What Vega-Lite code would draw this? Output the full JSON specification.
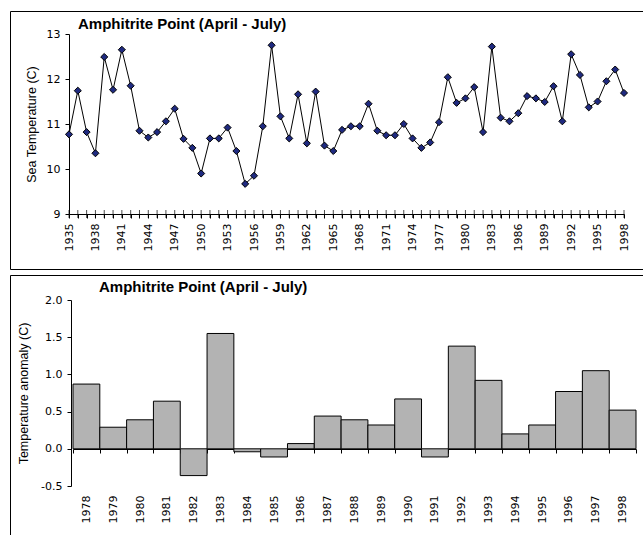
{
  "$schema": "https://vega.github.io/schema/vega-lite/v6.json",
  "padding": {"left": 3, "top": 10, "right": 0, "bottom": 0},
  "spacing": 4,
  "config": {
    "view": {"stroke": "#000000", "strokeWidth": 1},
    "axis": {
      "labelFont": "DejaVu Sans", "labelFontSize": 11, "labelColor": "#000000",
      "titleFont": "Liberation Sans", "titleFontSize": 12.5, "titleFontWeight": "normal", "titleColor": "#000000",
      "domainColor": "#000000", "tickColor": "#000000", "tickSize": 4, "labelPadding": 5,
      "grid": false, "zindex": 1, "labelOverlap": false, "labelFlush": false
    },
    "title": {"font": "Liberation Sans", "fontSize": 15, "fontWeight": "bold", "color": "#000000", "anchor": "start", "frame": "group"}
  },
  "datasets": {
    "temp": [
      {"year": 1935, "t": 10.77}, {"year": 1936, "t": 11.74}, {"year": 1937, "t": 10.82}, {"year": 1938, "t": 10.35},
      {"year": 1939, "t": 12.49}, {"year": 1940, "t": 11.76}, {"year": 1941, "t": 12.65}, {"year": 1942, "t": 11.85},
      {"year": 1943, "t": 10.85}, {"year": 1944, "t": 10.70}, {"year": 1945, "t": 10.82}, {"year": 1946, "t": 11.06},
      {"year": 1947, "t": 11.34}, {"year": 1948, "t": 10.67}, {"year": 1949, "t": 10.47}, {"year": 1950, "t": 9.90},
      {"year": 1951, "t": 10.68}, {"year": 1952, "t": 10.68}, {"year": 1953, "t": 10.92}, {"year": 1954, "t": 10.40},
      {"year": 1955, "t": 9.67}, {"year": 1956, "t": 9.85}, {"year": 1957, "t": 10.95}, {"year": 1958, "t": 12.75},
      {"year": 1959, "t": 11.17}, {"year": 1960, "t": 10.68}, {"year": 1961, "t": 11.66}, {"year": 1962, "t": 10.57},
      {"year": 1963, "t": 11.72}, {"year": 1964, "t": 10.52}, {"year": 1965, "t": 10.40}, {"year": 1966, "t": 10.87},
      {"year": 1967, "t": 10.95}, {"year": 1968, "t": 10.95}, {"year": 1969, "t": 11.45}, {"year": 1970, "t": 10.85},
      {"year": 1971, "t": 10.75}, {"year": 1972, "t": 10.75}, {"year": 1973, "t": 11.00}, {"year": 1974, "t": 10.68},
      {"year": 1975, "t": 10.47}, {"year": 1976, "t": 10.59}, {"year": 1977, "t": 11.04}, {"year": 1978, "t": 12.04},
      {"year": 1979, "t": 11.47}, {"year": 1980, "t": 11.57}, {"year": 1981, "t": 11.82}, {"year": 1982, "t": 10.82},
      {"year": 1983, "t": 12.72}, {"year": 1984, "t": 11.14}, {"year": 1985, "t": 11.06}, {"year": 1986, "t": 11.24},
      {"year": 1987, "t": 11.62}, {"year": 1988, "t": 11.57}, {"year": 1989, "t": 11.49}, {"year": 1990, "t": 11.84},
      {"year": 1991, "t": 11.06}, {"year": 1992, "t": 12.55}, {"year": 1993, "t": 12.09}, {"year": 1994, "t": 11.37},
      {"year": 1995, "t": 11.50}, {"year": 1996, "t": 11.95}, {"year": 1997, "t": 12.21}, {"year": 1998, "t": 11.69}
    ],
    "anom": [
      {"year": "1978", "a": 0.87}, {"year": "1979", "a": 0.29}, {"year": "1980", "a": 0.39}, {"year": "1981", "a": 0.64},
      {"year": "1982", "a": -0.36}, {"year": "1983", "a": 1.55}, {"year": "1984", "a": -0.04}, {"year": "1985", "a": -0.11},
      {"year": "1986", "a": 0.07}, {"year": "1987", "a": 0.44}, {"year": "1988", "a": 0.39}, {"year": "1989", "a": 0.32},
      {"year": "1990", "a": 0.67}, {"year": "1991", "a": -0.11}, {"year": "1992", "a": 1.38}, {"year": "1993", "a": 0.92},
      {"year": "1994", "a": 0.20}, {"year": "1995", "a": 0.32}, {"year": "1996", "a": 0.77}, {"year": "1997", "a": 1.05},
      {"year": "1998", "a": 0.52}
    ]
  },
  "vconcat": [
    {
      "width": 639,
      "height": 258,
      "title": {"text": "Amphitrite Point (April - July)", "offset": -21, "dx": 68},
      "data": {"name": "temp"},
      "encoding": {
        "x": {
          "field": "year", "type": "quantitative",
          "scale": {"domain": [1935, 1998], "range": [59, 614], "nice": false, "zero": false},
          "axis": {
            "title": null, "offset": -55, "format": "d", "labelAngle": 270, "labelPadding": 5,
            "values": [1935,1936,1937,1938,1939,1940,1941,1942,1943,1944,1945,1946,1947,1948,1949,1950,1951,1952,1953,1954,1955,1956,1957,1958,1959,1960,1961,1962,1963,1964,1965,1966,1967,1968,1969,1970,1971,1972,1973,1974,1975,1976,1977,1978,1979,1980,1981,1982,1983,1984,1985,1986,1987,1988,1989,1990,1991,1992,1993,1994,1995,1996,1997,1998],
            "labelExpr": "(datum.value - 1935) % 3 == 0 ? datum.label : ''"
          }
        },
        "y": {
          "field": "t", "type": "quantitative",
          "scale": {"domain": [9, 13], "range": [203, 23], "nice": false, "zero": false},
          "axis": {"title": "Sea Temperature (C)", "offset": -59, "values": [9, 10, 11, 12, 13], "format": "d", "titlePadding": 8}
        }
      },
      "layer": [
        {"mark": {"type": "line", "color": "#000000", "strokeWidth": 1}},
        {"mark": {"type": "tick", "orient": "vertical", "color": "#000000", "size": 8, "thickness": 1}, "encoding": {"y": {"datum": 9}}},
        {"mark": {"type": "point", "shape": "diamond", "size": 50, "filled": true, "fill": "#1f2a80", "stroke": "#000000", "strokeWidth": 1, "opacity": 1}}
      ]
    },
    {
      "width": 639,
      "height": 261,
      "title": {"text": "Amphitrite Point (April - July)", "offset": -20, "dx": 89},
      "data": {"name": "anom"},
      "mark": {"type": "bar", "fill": "#b3b3b3", "stroke": "#000000", "strokeWidth": 1},
      "encoding": {
        "x": {
          "field": "year", "type": "ordinal",
          "scale": {"range": [63, 626], "paddingInner": 0, "paddingOuter": 0},
          "axis": {"title": null, "offset": -87, "labelAngle": 270, "labelPadding": 42, "tickBand": "extent"}
        },
        "y": {
          "field": "a", "type": "quantitative",
          "scale": {"domain": [-0.5, 2.0], "range": [211, 25], "nice": false, "zero": false},
          "axis": {"title": "Temperature anomaly (C)", "offset": -61, "values": [-0.5, 0, 0.5, 1, 1.5, 2], "format": ".1f", "labelExpr": "replace(datum.label, '−', '-')", "titlePadding": 10}
        },
        "y2": {"datum": 0}
      }
    }
  ]
}
